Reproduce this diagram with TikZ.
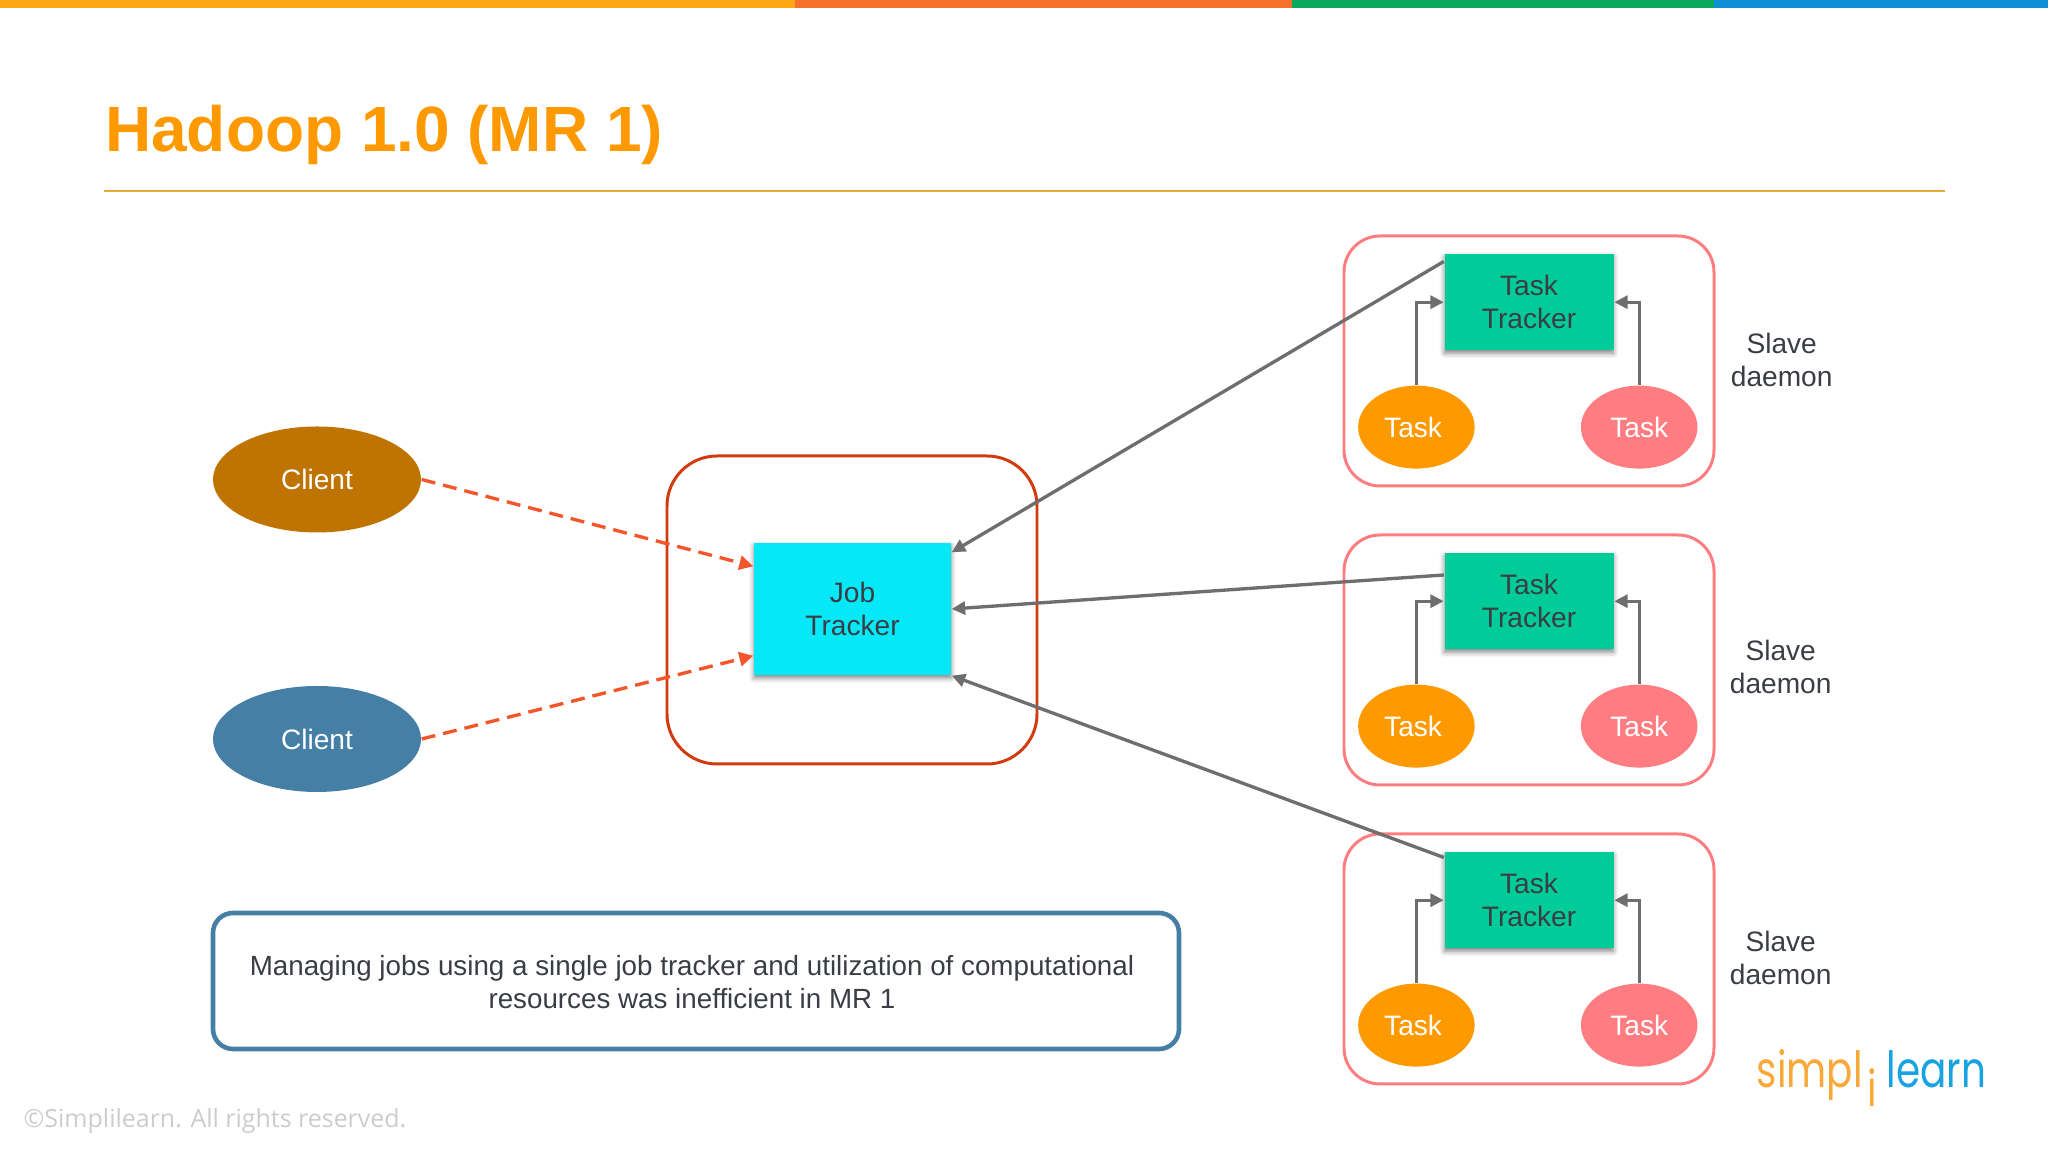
\documentclass[tikz,border=0pt]{standalone}
\usepackage{fontspec}
\setmainfont{Liberation Sans}
\newfontfamily\footfont{Open Sans}
\newfontfamily\logofont{Poppins}[FakeStretch=0.78]
\usepackage{xcolor}
\usepackage{tikz}
\usetikzlibrary{shapes.geometric, arrows.meta, positioning, shadows.blur}
\definecolor{baramber}{RGB}{255, 166, 20}
\definecolor{barorange}{RGB}{245, 112, 42}
\definecolor{bargreen}{RGB}{11, 169, 91}
\definecolor{barblue}{RGB}{15, 143, 214}
\definecolor{titleorange}{RGB}{255, 153, 0}
\definecolor{ruleamber}{RGB}{232, 169, 60}
\definecolor{clientbrown}{RGB}{191, 115, 0}
\definecolor{clientblue}{RGB}{69, 127, 165}
\definecolor{jobred}{RGB}{209, 59, 15}
\definecolor{jobcyan}{RGB}{5, 232, 248}
\definecolor{trackergreen}{RGB}{0, 204, 153}
\definecolor{taskorange}{RGB}{255, 153, 0}
\definecolor{taskpink}{RGB}{255, 124, 128}
\definecolor{dashorange}{RGB}{244, 86, 42}
\definecolor{linkgray}{RGB}{110, 110, 110}
\definecolor{textdark}{RGB}{58, 62, 68}
\definecolor{logoorange}{RGB}{249, 168, 58}
\definecolor{logoblue}{RGB}{24, 163, 224}

\begin{document}
\begin{tikzpicture}[
    body/.style={font=\fontsize{8}{9.4}\selectfont, align=center, text=textdark, inner sep=0pt},
    client/.style={ellipse, body, text=white, minimum width=2.08cm, minimum height=1.06cm},
    task/.style={ellipse, body, text=white, minimum width=1.165cm, minimum height=0.83cm},
    taskl/.style={task, fill=taskorange},
    taskr/.style={task, fill=taskpink},
    softshadow/.style={blur shadow={shadow xshift=0cm, shadow yshift=-0.03cm, shadow blur radius=0.05cm, shadow opacity=50}},
    tracker/.style={rectangle, body, fill=trackergreen, minimum width=1.69cm, minimum height=0.96cm, softshadow},
    jobbox/.style={rectangle, body, fill=jobcyan, minimum width=1.97cm, minimum height=1.32cm, softshadow},
    frame/.style={rectangle, draw=jobred, line width=0.85pt, rounded corners=0.5cm, minimum width=3.70cm, minimum height=3.08cm},
    slave/.style={rectangle, draw=taskpink, line width=0.85pt, rounded corners=0.36cm, minimum width=3.70cm, minimum height=2.50cm},
    note/.style={rectangle, draw=clientblue, line width=1.3pt, rounded corners=0.2cm, minimum width=9.66cm, minimum height=1.36cm},
    link/.style={-{Triangle[length=1.35mm, width=1.3mm]}, draw=linkgray, line width=0.95pt},
    request/.style={-{Triangle[length=1.4mm, width=1.4mm]}, draw=dashorange, line width=0.95pt, dash pattern=on 0.14cm off 0.08cm},
    logo/.style={anchor=base west, inner sep=0pt, font=\logofont\fontsize{14.2}{15}\selectfont}
]

% Top bar
\fill[baramber] (0,11.44) rectangle (7.95,11.52);
\fill[barorange] (7.95,11.44) rectangle (12.92,11.52);
\fill[bargreen] (12.92,11.44) rectangle (17.14,11.52);
\fill[barblue] (17.14,11.44) rectangle (20.48,11.52);

% Title
\node[anchor=base west, inner sep=0pt, text=titleorange, font=\bfseries\fontsize{18.2}{20}\selectfont] (title) at (1.045,10.00) {Hadoop 1.0 (MR 1)};
\draw[ruleamber, line width=0.6pt] (1.04,9.61) -- (19.45,9.61);

% Clients
\node[client, fill=clientbrown] (client1) at (3.17,6.725) {Client};
\node[client, fill=clientblue] (client2) at (3.17,4.13) {Client};

% Job tracker
\node[frame] (jobframe) at (8.52,5.42) {};
\node[jobbox] (job) at (8.525,5.43) {\vspace*{0.026cm}Job\\Tracker};

% Slave 1
\node[slave] (slave1) at (15.29,7.91) {};
\node[tracker, below=0.19cm of slave1.north] (tracker1) {\vspace*{0.026cm}Task\\Tracker};
\node[taskl, below=0.34cm of tracker1, xshift=-1.126cm] (taskl1) {\hspace*{-0.033cm}Task\hspace*{0.033cm}\vspace*{0.026cm}};
\node[taskr, below=0.34cm of tracker1, xshift=1.102cm] (taskr1) {Task\vspace*{0.026cm}};
\node[body, right=0.147cm of slave1, yshift=0.013cm] (daemon1) {Slave\\daemon};

% Slave 2
\node[slave] (slave2) at (15.29,4.92) {};
\node[tracker, below=0.19cm of slave2.north] (tracker2) {\vspace*{0.026cm}Task\\Tracker};
\node[taskl, below=0.34cm of tracker2, xshift=-1.126cm] (taskl2) {\hspace*{-0.033cm}Task\hspace*{0.033cm}\vspace*{0.026cm}};
\node[taskr, below=0.34cm of tracker2, xshift=1.102cm] (taskr2) {Task\vspace*{0.026cm}};
\node[body, right=0.137cm of slave2, yshift=-0.07cm] (daemon2) {Slave\\daemon};

% Slave 3
\node[slave] (slave3) at (15.29,1.93) {};
\node[tracker, below=0.19cm of slave3.north] (tracker3) {\vspace*{0.026cm}Task\\Tracker};
\node[taskl, below=0.34cm of tracker3, xshift=-1.126cm] (taskl3) {\hspace*{-0.033cm}Task\hspace*{0.033cm}\vspace*{0.026cm}};
\node[taskr, below=0.34cm of tracker3, xshift=1.102cm] (taskr3) {Task\vspace*{0.026cm}};
\node[body, right=0.137cm of slave3, yshift=0.013cm] (daemon3) {Slave\\daemon};

% Arrows
\draw[request] (client1.east) -- ([yshift=-0.24cm]job.north west);
\draw[request] (client2.east) -- ([yshift=0.20cm]job.south west);
\draw[link] ([yshift=-0.08cm]tracker1.north west) -- ([yshift=-0.10cm]job.north east);
\draw[link] ([yshift=-0.225cm]tracker2.north west) -- (job.east);
\draw[link] ([yshift=-0.06cm]tracker3.north west) -- (job.south east);
\draw[link] (taskl1.north) |- (tracker1.west);
\draw[link] (taskr1.north) |- (tracker1.east);
\draw[link] (taskl2.north) |- (tracker2.west);
\draw[link] (taskr2.north) |- (tracker2.east);
\draw[link] (taskl3.north) |- (tracker3.west);
\draw[link] (taskr3.north) |- (tracker3.east);

% Note
\node[note] (note) at (6.96,1.71) {};
\node[body, font=\fontsize{7.9}{9.4}\selectfont, xshift=-0.04cm, yshift=-0.013cm] (notetext) at (note) {Managing jobs using a single job tracker and utilization of computational\\resources was inefficient in MR 1};

% Footer and logo
\node[anchor=base west, inner sep=0pt, text=black!20, font=\footfont\fontsize{7.1}{9}\selectfont] (copyright) at (0.23,0.24) {©Simplilearn. All rights reserved.};
\node[logo, text=logoorange] (logosimpl) at (17.56,0.64) {simpl};
\node[logo, text=logoorange] (logoi) at (18.67,0.45) {i};
\node[logo, text=logoblue] (logolearn) at (18.86,0.64) {learn};

\useasboundingbox (0,0) rectangle (20.48,11.52);
\end{tikzpicture}
\end{document}
